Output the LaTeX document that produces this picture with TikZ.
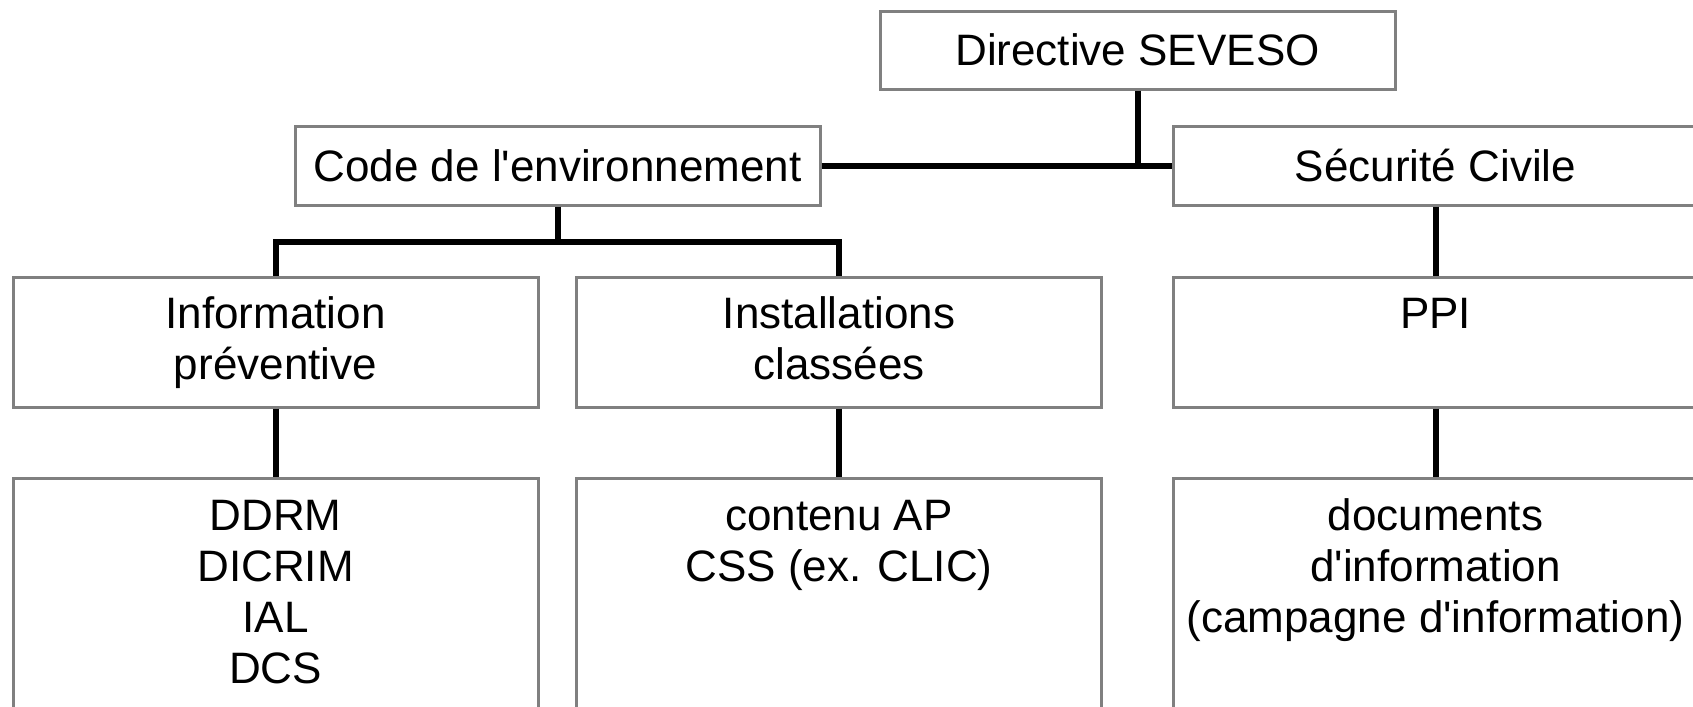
\documentclass[tikz,border=0pt]{standalone}
\usepackage{fontspec}
\setmainfont{Liberation Sans}
\usepackage{tikz}
\usepackage{color}
\definecolor{boxgray}{RGB}{128,128,128}

% lines of a box, hanging from the first one
\newcommand{\boxlines}[1]{\begin{tabular}[t]{@{}c@{}}#1\end{tabular}}

\tikzset{
  box/.style={draw=boxgray,line width=1.5pt,inner sep=0pt,
    font=\fontsize{22}{25.5}\selectfont,minimum width=262.5pt},
  headbox/.style={box,minimum height=39.5pt},
  midbox/.style={box,inner ysep=8pt,text depth=31.15pt},
  leafbox/.style={box,inner ysep=8pt,anchor=north,text depth=150pt},
  link/.style={line width=3pt}
}

\begin{document}
\begin{tikzpicture}[x=0.5pt,y=-0.5pt]
\useasboundingbox (0,0) rectangle (1693,707);
\clip (0,0) rectangle (1693,707);

\node[headbox,minimum width=257.5pt,minimum height=39pt] (seveso) at (1137.5,50) {Directive SEVESO};
\node[headbox] (env) at (557.5,165.5) {Code de l\textquotesingle environnement};
\node[headbox] (secu) at (1435.5,165.5) {Sécurité Civile};

\node[midbox] (infoprev) at (275.5,342) {\boxlines{Information\\préventive}};
\node[midbox] (icpe) at (839,342) {\boxlines{Installations\\classées}};
\node[midbox] (ppi) at (1435.5,342) {\boxlines{PPI}};

\node[leafbox] (ddrm) at (275.5,477) {\boxlines{DDRM\\DICRIM\\IAL\\DCS}};
\node[leafbox] (apcss) at (839,477) {\boxlines{contenu AP\\CSS (ex. CLIC)}};
\node[leafbox] (docs) at (1435.5,477) {\boxlines{documents\\d\textquotesingle information\\(campagne d\textquotesingle information)}};

\draw[link] (env.east) -- (secu.west);
\draw[link] (seveso.south) -- (seveso.south |- env.east);
\draw[link] (env.south) -- ++(0,35) coordinate (split);
\draw[link] (infoprev.north) |- (split) -| (icpe.north);
\draw[link] (secu.south) -- (ppi.north);

\draw[link] (infoprev.south) -- (ddrm.north);
\draw[link] (icpe.south) -- (apcss.north);
\draw[link] (ppi.south) -- (docs.north);
%\draw[link] (seveso.south) -- (env.north);

\end{tikzpicture}
\end{document}
